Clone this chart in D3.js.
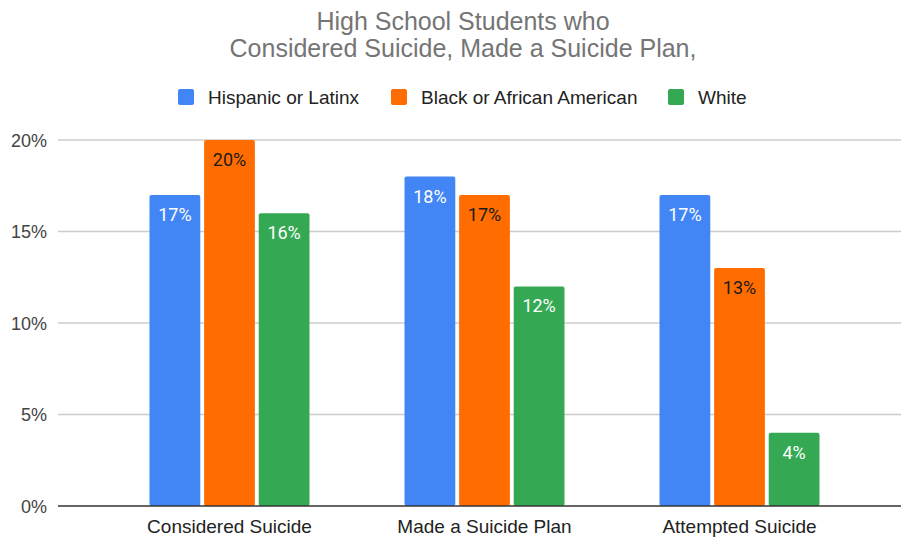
<!DOCTYPE html>
<html><head><meta charset="utf-8">
<script src="https://cdn.jsdelivr.net/npm/d3@7"></script>
<style>body{margin:0;background:#fff}svg{display:block}</style>
</head><body><svg id="c" width="902" height="542"></svg>
<script>
const categories = ["Considered Suicide", "Made a Suicide Plan", "Attempted Suicide"];
const seriesNames = ["Hispanic or Latinx", "Black or African American", "White"];
const hispanic = [17, 18, 17];
const black = [20, 17, 13];
const white = [16, 12, 4];
const colors = ["#4285f4", "#ff6d01", "#34a853"];
const labelColors = ["#ffffff", "#1a1a1a", "#ffffff"];
const yTicks = [0, 5, 10, 15, 20];
const titleLines = ["High School Students who", "Considered Suicide, Made a Suicide Plan,"];

const series = [hispanic, black, white];
const svg = d3.select("#c");
const FONT = "Liberation Sans, Arial, sans-serif";
const y = d3.scaleLinear().domain([0, 20]).range([506, 140]);
const x = d3.scaleBand().domain(categories).range([102, 867]).paddingInner(0).paddingOuter(0);
const xs = d3.scaleBand().domain(d3.range(3)).range([0, 160]).paddingInner(0.07);

// title
svg.selectAll("text.title").data(titleLines).join("text")
  .attr("x", 463).attr("y", (d, i) => 30 + i * 27)
  .attr("text-anchor", "middle").attr("font-family", FONT)
  .attr("font-size", 25).attr("fill", "#757575").text(d => d);

// legend
const legX = [178, 391, 668];
const lg = svg.selectAll("g.leg").data(seriesNames).join("g").attr("transform", (d, i) => `translate(${legX[i]},89)`);
lg.append("rect").attr("width", 16).attr("height", 16).attr("rx", 2).attr("fill", (d, i) => colors[i]);
lg.append("text").attr("x", 30).attr("y", 15).attr("font-family", FONT)
  .attr("font-size", 19).attr("fill", "#222").text(d => d);

// grid
svg.selectAll("line.grid").data(yTicks.filter(t => t > 0)).join("line")
  .attr("x1", 58).attr("x2", 901).attr("y1", d => y(d)).attr("y2", d => y(d))
  .attr("stroke", "#cccccc").attr("stroke-width", 1.5);

// y axis labels
svg.selectAll("text.yt").data(yTicks).join("text")
  .attr("x", 47).attr("y", d => y(d) + 6.5).attr("text-anchor", "end")
  .attr("font-family", FONT).attr("font-size", 18).attr("fill", "#444")
  .text(d => d + "%");

// bars
const groups = svg.selectAll("g.cat").data(categories).join("g")
  .attr("transform", d => `translate(${x(d) + x.bandwidth() / 2 - 80},0)`);
groups.each(function (c, ci) {
  const g = d3.select(this);
  series.forEach((s, si) => {
    const v = s[ci];
    g.append("rect").attr("x", xs(si)).attr("width", xs.bandwidth())
      .attr("y", y(v)).attr("height", y(0) - y(v)).attr("rx", 2).attr("fill", colors[si]);
    g.append("text").attr("x", xs(si) + xs.bandwidth() / 2).attr("y", y(v) + 26)
      .attr("text-anchor", "middle").attr("font-family", "Roboto, sans-serif").attr("font-size", 18)
      .attr("fill", labelColors[si]).text(v + "%");
  });
});

// baseline
svg.append("line").attr("x1", 58).attr("x2", 901).attr("y1", y(0)).attr("y2", y(0))
  .attr("stroke", "#333").attr("stroke-width", 1.5);

// x labels
svg.selectAll("text.xl").data(categories).join("text")
  .attr("x", d => x(d) + x.bandwidth() / 2).attr("y", 533).attr("text-anchor", "middle")
  .attr("font-family", FONT).attr("font-size", 19).attr("fill", "#222")
  .text(d => d);
</script></body></html>
